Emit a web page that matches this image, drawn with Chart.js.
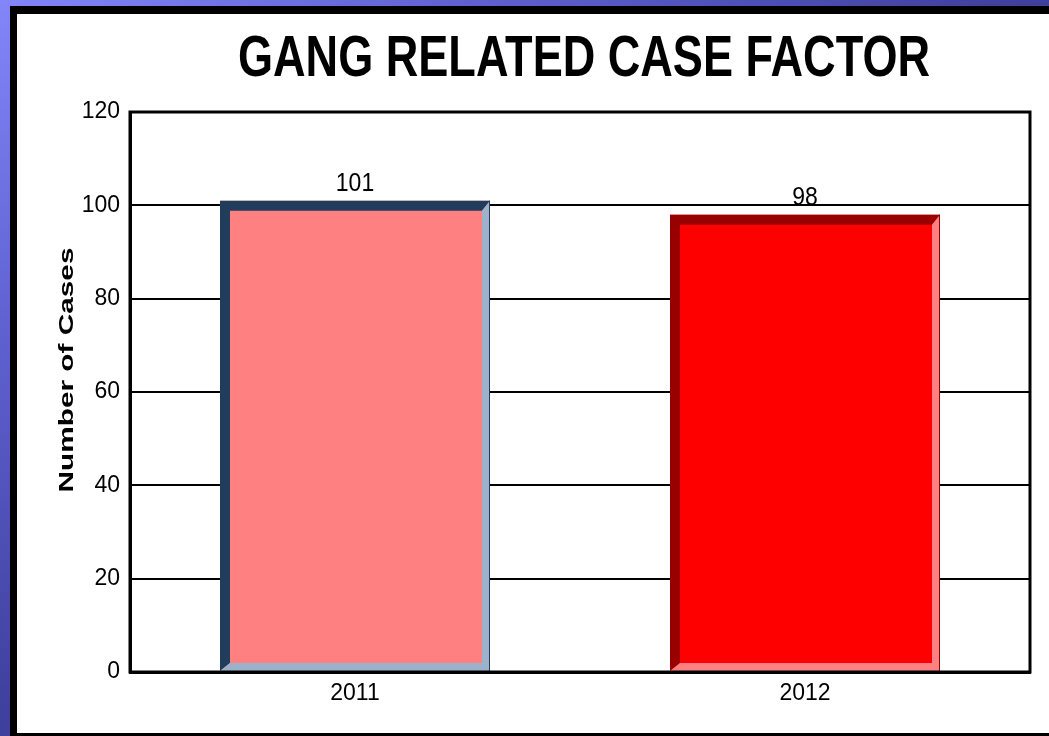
<!DOCTYPE html>
<html lang="en">
<head>
    <meta charset="UTF-8">
    <title>Gang Related Case Factor</title>
    <script src="https://cdn.jsdelivr.net/npm/chart.js@4.4.1/dist/chart.umd.min.js"></script>
    <style>
        html, body {
            margin: 0;
            padding: 0;
            width: 1049px;
            height: 736px;
            overflow: hidden;
        }
        body {
            background: linear-gradient(to bottom right, #8286f8 0%, #6062d2 22%, #40409e 48%, #33338a 75%, #2c2c7a 100%);
            position: relative;
        }
        .panel {
            position: absolute;
            left: 10px;
            top: 6px;
            width: 1060px;
            height: 719px;
            background: #fff;
            border-left: 7px solid #000;
            border-top: 8px solid #000;
            border-bottom: 3px solid #000;
        }
        .chart-box {
            position: absolute;
            left: 0;
            top: 0;
            width: 1032px;
            height: 719px;
        }
    </style>
</head>
<body>
    <div class="panel">
        <div class="chart-box">
            <canvas id="caseChart"></canvas>
        </div>
    </div>

    <script>
        // data
        const years = ['2011', '2012'];
        const caseCounts = [101, 98];
        const yTicks = [0, 20, 40, 60, 80, 100, 120];

        const chartTitle = 'GANG RELATED CASE FACTOR';
        const yTitle = 'Number of Cases';

        // bar look: face, dark bevel (top/left), light bevel (bottom/right)
        const faceColors = ['#ff8080', '#ff0000'];
        const darkEdges = ['#223c5c', '#990000'];
        const lightEdges = ['#9cb2ca', '#ff8080'];

        // bevel edges, values labels, titles and the plot frame
        const decorPlugin = {
            id: 'decor',
            afterDatasetsDraw(chart) {
                const ctx = chart.ctx;
                const meta = chart.getDatasetMeta(0);
                meta.data.forEach((bar, i) => {
                    const p = bar.getProps(['x', 'y', 'base', 'width'], true);
                    const l = p.x - p.width / 2, r = p.x + p.width / 2;
                    const t = p.y, b = p.base;
                    const d = 10, e = 8;
                    ctx.save();
                    ctx.fillStyle = darkEdges[i];
                    ctx.beginPath();
                    ctx.moveTo(l, t);
                    ctx.lineTo(r, t);
                    ctx.lineTo(r - e, t + d);
                    ctx.lineTo(l + d, t + d);
                    ctx.lineTo(l + d, b - e);
                    ctx.lineTo(l, b);
                    ctx.closePath();
                    ctx.fill();
                    ctx.fillStyle = lightEdges[i];
                    ctx.beginPath();
                    ctx.moveTo(r, t);
                    ctx.lineTo(r, b);
                    ctx.lineTo(l, b);
                    ctx.lineTo(l + d, b - e);
                    ctx.lineTo(r - e, b - e);
                    ctx.lineTo(r - e, t + d);
                    ctx.closePath();
                    ctx.fill();
                    ctx.strokeStyle = darkEdges[i];
                    ctx.lineWidth = 1;
                    ctx.beginPath();
                    ctx.moveTo(r - 0.5, t);
                    ctx.lineTo(r - 0.5, b);
                    ctx.stroke();

                    // value label
                    ctx.fillStyle = '#000';
                    ctx.font = '23px "Liberation Sans", Arial, sans-serif';
                    ctx.textAlign = 'center';
                    ctx.textBaseline = 'alphabetic';
                    ctx.translate(p.x, t - 10);
                    ctx.scale(1, 1.15);
                    ctx.fillText(String(caseCounts[i]), 0, 0);
                    ctx.restore();
                });

                // plot frame
                const a = chart.chartArea;
                ctx.save();
                ctx.strokeStyle = '#000';
                ctx.lineWidth = 3;
                ctx.strokeRect(a.left, a.top, a.right - a.left, a.bottom - a.top);
                ctx.restore();
            },
            afterDraw(chart) {
                const ctx = chart.ctx;
                const a = chart.chartArea;

                // main title, narrow and tall
                ctx.save();
                ctx.fillStyle = '#000';
                ctx.font = 'bold 57px "Liberation Sans", Arial, sans-serif';
                ctx.textAlign = 'center';
                ctx.textBaseline = 'alphabetic';
                const tw = ctx.measureText(chartTitle).width;
                ctx.translate((a.left + a.right) / 2 + 4, 62);
                ctx.scale(692 / tw, 1);
                ctx.fillText(chartTitle, 0, 0);
                ctx.restore();

                // y axis title, stretched along its length
                ctx.save();
                ctx.fillStyle = '#000';
                ctx.font = 'bold 21px "Liberation Sans", Arial, sans-serif';
                ctx.textAlign = 'center';
                ctx.textBaseline = 'alphabetic';
                const yw = ctx.measureText(yTitle).width;
                ctx.translate(56, 356);
                ctx.rotate(-Math.PI / 2);
                ctx.scale(245 / yw, 1);
                ctx.fillText(yTitle, 0, 0);
                ctx.restore();
            }
        };

        Chart.defaults.font.family = '"Liberation Sans", Arial, sans-serif';
        Chart.defaults.color = '#000';

        const caseChart = new Chart(document.getElementById('caseChart'), {
            type: 'bar',
            data: {
                labels: years,
                datasets: [{
                    label: 'Cases',
                    data: caseCounts,
                    backgroundColor: faceColors,
                    borderWidth: 0,
                    barPercentage: 0.6,
                    categoryPercentage: 1
                }]
            },
            options: {
                responsive: true,
                maintainAspectRatio: false,
                animation: false,
                devicePixelRatio: 1,
                layout: {
                    padding: { left: 0, right: 19, top: 98, bottom: 0 }
                },
                plugins: {
                    legend: { display: false },
                    title: { display: false },
                    tooltip: { enabled: false }
                },
                scales: {
                    x: {
                        afterFit(scale) { scale.height = 61; },
                        grid: { display: false, drawTicks: false },
                        border: { display: true, color: '#000', width: 3 },
                        ticks: {
                            padding: 8,
                            font: { size: 23 }
                        }
                    },
                    y: {
                        min: yTicks[0],
                        max: yTicks[yTicks.length - 1],
                        afterFit(scale) { scale.width = 113; },
                        afterBuildTicks(scale) {
                            scale.ticks = yTicks.map(v => ({ value: v }));
                        },
                        grid: { color: '#000', lineWidth: 2, drawTicks: false },
                        border: { display: true, color: '#000', width: 3 },
                        ticks: {
                            padding: 10,
                            font: { size: 23 }
                        }
                    }
                }
            },
            plugins: [decorPlugin]
        });
    </script>
</body>
</html>
